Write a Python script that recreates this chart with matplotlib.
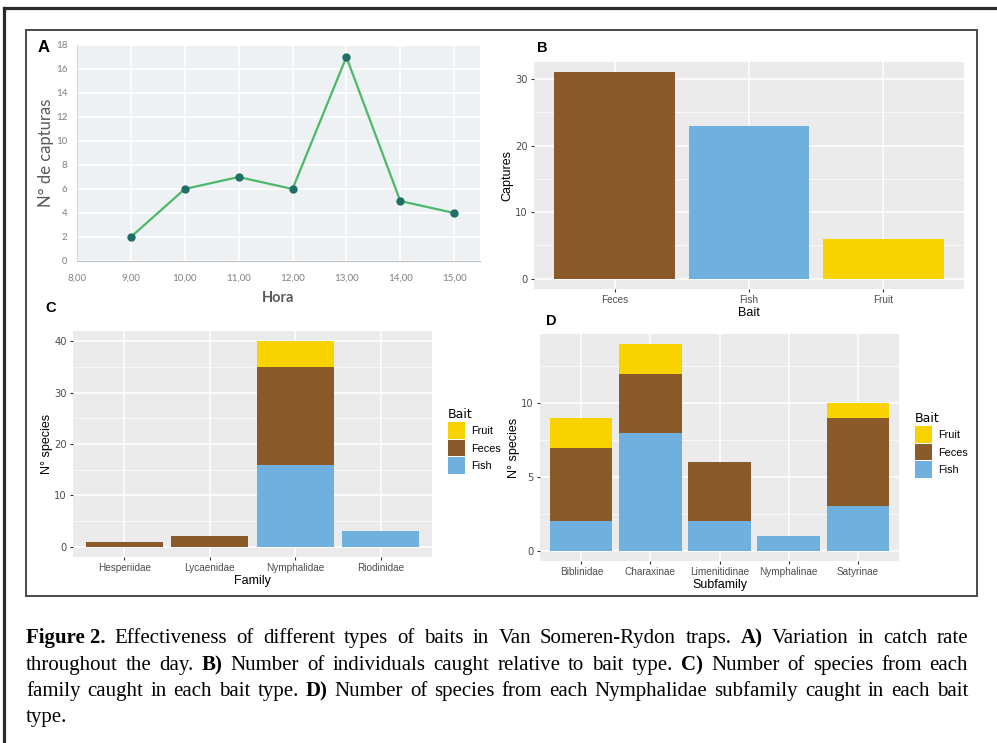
import numpy as np
import matplotlib.pyplot as plt
from matplotlib.patches import Patch, Rectangle
from matplotlib.lines import Line2D

W, H = 997, 743

# panel A data
hours = [9, 10, 11, 12, 13, 14, 15]
captures_hour = [2, 6, 7, 6, 17, 5, 4]

# panel B data
baits = ['Feces', 'Fish', 'Fruit']
captures_bait = [31, 23, 6]

# panel C data
families = ['Hesperiidae', 'Lycaenidae', 'Nymphalidae', 'Riodinidae']
fam_fish = [0, 0, 16, 3]
fam_feces = [1, 2, 19, 0]
fam_fruit = [0, 0, 5, 0]

# panel D data
subfamilies = ['Biblinidae', 'Charaxinae', 'Limenitidinae', 'Nymphalinae', 'Satyrinae']
sub_fish = [2, 8, 2, 1, 3]
sub_feces = [5, 4, 4, 0, 6]
sub_fruit = [2, 2, 0, 0, 1]

c_feces = '#8a5a2b'
c_fish = '#6fb0df'
c_fruit = '#f8d300'
gg_bg = '#ebebeb'
gg_txt = '#4d4d4d'

fig = plt.figure(figsize=(W / 100, H / 100), dpi=100)
fig.patch.set_facecolor('white')


def px_ax(x0, y0, x1, y1):
    return fig.add_axes([x0 / W, 1 - y1 / H, (x1 - x0) / W, (y1 - y0) / H])


def fx(x):
    return x / W


def fy(y):
    return 1 - y / H


def gg_style(ax):
    ax.set_facecolor(gg_bg)
    for s in ax.spines.values():
        s.set_visible(False)
    ax.grid(True, which='major', color='white', linewidth=1.1)
    ax.grid(True, which='minor', axis='y', color='white', linewidth=0.5)
    ax.set_axisbelow(True)
    ax.tick_params(axis='both', which='major', length=2.5, width=0.8, color='#333333',
                   labelsize=7.2, labelcolor=gg_txt, pad=2)
    ax.tick_params(axis='both', which='minor', length=0)


# ---------------- A ----------------
axA = px_ax(77, 45, 480, 261)
axA.set_facecolor('#eef1f3')
axA.plot(hours, captures_hour, color='#4cb86a', linewidth=1.6, marker='o', markersize=5,
         markerfacecolor='#1f6f66', markeredgecolor='#1f6f66', zorder=3)
axA.set_xlim(8, 15.48)
axA.set_ylim(0, 18)
axA.set_yticks(np.arange(0, 19, 2))
axA.set_xticks(np.arange(8, 16, 1))
axA.set_xticklabels(['%d,00' % h for h in range(8, 16)])
axA.grid(True, color='white', linewidth=1.2)
axA.set_axisbelow(True)
for k in ['top', 'right']:
    axA.spines[k].set_visible(False)
axA.spines['left'].set_color('#d9d9d9')
axA.spines['bottom'].set_color('#bfbfbf')
axA.tick_params(axis='y', length=0, labelsize=7, labelcolor='#7f7f7f', pad=7)
axA.tick_params(axis='x', length=0, labelsize=7, labelcolor='#7f7f7f', pad=9)
for t in axA.get_xticklabels() + axA.get_yticklabels():
    t.set_family('Lato')
axA.set_xlabel('Hora', fontsize=10.5, family='Lato', fontweight='bold', color='#595959', labelpad=6)
axA.set_ylabel('N° de capturas', fontsize=12, family='Lato', color='#595959', labelpad=1)
fig.text(fx(38), fy(48), 'A', fontsize=12, fontweight='bold', family='Liberation Sans', va='center')

# ---------------- B ----------------
axB = px_ax(534, 62, 964, 289)
gg_style(axB)
xb = np.arange(1, len(baits) + 1)
axB.bar(xb, captures_bait, width=0.9, color=[c_feces, c_fish, c_fruit], zorder=2)
axB.set_xlim(0.4, 3.6)
axB.set_ylim(-1.55, 32.55)
axB.set_yticks([0, 10, 20, 30])
axB.set_yticks([5, 15, 25], minor=True)
axB.set_xticks(xb)
axB.set_xticklabels(baits, family='Liberation Sans')
axB.set_xlabel('Bait', fontsize=9, family='Liberation Sans', labelpad=1)
axB.set_ylabel('Captures', fontsize=9, family='Liberation Sans', labelpad=1)
fig.text(fx(537), fy(48), 'B', fontsize=10.5, fontweight='bold', family='Liberation Sans', va='center')

legend_handles = [Patch(facecolor=c_fruit, edgecolor='none', label='Fruit'),
                  Patch(facecolor=c_feces, edgecolor='none', label='Feces'),
                  Patch(facecolor=c_fish, edgecolor='none', label='Fish')]


def stacked(ax, names, fish, feces, fruit):
    x = np.arange(1, len(names) + 1)
    fish = np.array(fish)
    feces = np.array(feces)
    fruit = np.array(fruit)
    ax.bar(x, fish, width=0.9, color=c_fish, zorder=2)
    ax.bar(x, feces, width=0.9, bottom=fish, color=c_feces, zorder=2)
    ax.bar(x, fruit, width=0.9, bottom=fish + feces, color=c_fruit, zorder=2)
    ax.set_xlim(0.4, len(names) + 0.6)
    ax.set_xticks(x)
    ax.set_xticklabels(names, family='Liberation Sans')
    top = (fish + feces + fruit).max()
    ax.set_ylim(-0.05 * top, 1.05 * top)


def add_legend(x, y):
    fig.legend(handles=legend_handles, title='Bait', loc='upper left',
               bbox_to_anchor=(fx(x), fy(y)), frameon=False,
               title_fontsize=9, handlelength=1.55, handleheight=1.98,
               labelspacing=0.1, handletextpad=0.6, borderpad=0, borderaxespad=0,
               alignment='left', prop={'family': 'Liberation Sans', 'size': 7.8})


# ---------------- C ----------------
axC = px_ax(73, 331, 432, 557)
gg_style(axC)
stacked(axC, families, fam_fish, fam_feces, fam_fruit)
axC.set_yticks([0, 10, 20, 30, 40])
axC.set_yticks([5, 15, 25, 35], minor=True)
axC.set_xlabel('Family', fontsize=9, family='Liberation Sans', labelpad=1)
axC.set_ylabel('N° species', fontsize=9, family='Liberation Sans', labelpad=1)
fig.text(fx(45), fy(308), 'C', fontsize=10.5, fontweight='bold', family='Liberation Sans', va='center')
add_legend(448, 408)

# ---------------- D ----------------
axD = px_ax(540, 334, 899, 561)
gg_style(axD)
stacked(axD, subfamilies, sub_fish, sub_feces, sub_fruit)
axD.set_yticks([0, 5, 10])
axD.set_yticks([2.5, 7.5, 12.5], minor=True)
axD.set_xlabel('Subfamily', fontsize=9, family='Liberation Sans', labelpad=1)
axD.set_ylabel('N° species', fontsize=9, family='Liberation Sans', labelpad=1)
fig.text(fx(546), fy(321), 'D', fontsize=10.5, fontweight='bold', family='Liberation Sans', va='center')
add_legend(915, 412)

# ---------------- frames ----------------
fig.add_artist(Line2D([fx(3.5), fx(3.5)], [fy(743), fy(8)], color='#2b2b2b', linewidth=2.3))
fig.add_artist(Line2D([fx(3.5), fx(997)], [fy(8), fy(8)], color='#2b2b2b', linewidth=2.3))
fig.add_artist(Rectangle((fx(26), fy(596)), fx(977) - fx(26), fy(30) - fy(596),
                         fill=False, edgecolor='#4a4a4a', linewidth=1.4, transform=fig.transFigure))

# ---------------- caption (justified) ----------------
cap_lines = [
    [('Figure 2.', True), ('Effectiveness', False), ('of', False), ('different', False), ('types', False),
     ('of', False), ('baits', False), ('in', False), ('Van', False), ('Someren-Rydon', False),
     ('traps.', False), ('A)', True), ('Variation', False), ('in', False), ('catch', False), ('rate', False)],
    [('throughout', False), ('the', False), ('day.', False), ('B)', True), ('Number', False), ('of', False),
     ('individuals', False), ('caught', False), ('relative', False), ('to', False), ('bait', False),
     ('type.', False), ('C)', True), ('Number', False), ('of', False), ('species', False), ('from', False),
     ('each', False)],
    [('family', False), ('caught', False), ('in', False), ('each', False), ('bait', False), ('type.', False),
     ('D)', True), ('Number', False), ('of', False), ('species', False), ('from', False), ('each', False),
     ('Nymphalidae', False), ('subfamily', False), ('caught', False), ('in', False), ('each', False),
     ('bait', False)],
    [('type.', False)],
]
cap_base = [643, 670, 696, 722]
cap_x0, cap_x1 = 26, 968
cap_size = 15

renderer = fig.canvas.get_renderer()
for li, (words, y) in enumerate(zip(cap_lines, cap_base)):
    texts = []
    for w, b in words:
        t = fig.text(0, fy(y), w, fontsize=cap_size, family='Liberation Serif',
                     fontweight='bold' if b else 'normal', va='baseline', ha='left')
        texts.append(t)
    widths = [t.get_window_extent(renderer).width for t in texts]
    if li < len(cap_lines) - 1 and len(texts) > 1:
        gap = (cap_x1 - cap_x0 - sum(widths)) / (len(texts) - 1)
    else:
        gap = 4
    x = cap_x0
    for t, wd in zip(texts, widths):
        t.set_x(fx(x))
        x += wd + gap

fig.savefig('out.png', dpi=100)
